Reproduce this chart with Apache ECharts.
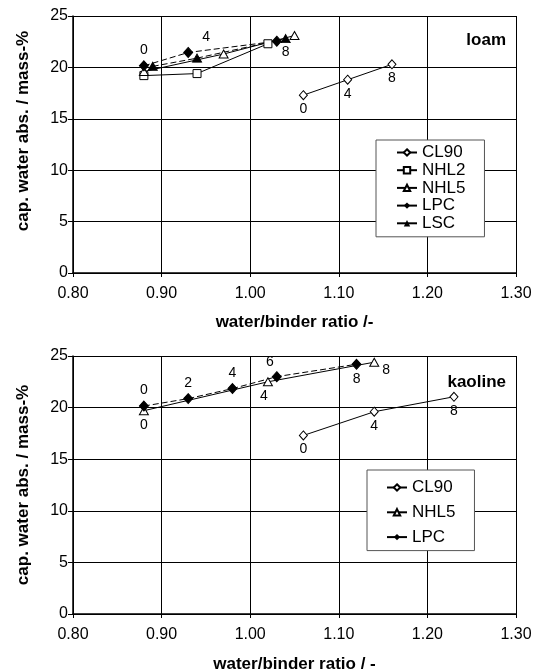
<!DOCTYPE html>
<html><head><meta charset="utf-8">
<script src="https://cdn.jsdelivr.net/npm/echarts@6/dist/echarts.min.js"></script>
<style>html,body{margin:0;padding:0;background:#fff}#c{width:541px;height:670px}</style>
</head><body><div id="c"></div>
<script>
// ---- data: loam (top) ----
const loam_CL90_x = [1.06, 1.11, 1.16];
const loam_CL90_y = [17.3, 18.8, 20.3];
const loam_NHL2_x = [0.88, 0.94, 1.02];
const loam_NHL2_y = [19.2, 19.4, 22.3];
const loam_NHL5_x = [0.88, 0.97, 1.05];
const loam_NHL5_y = [19.6, 21.3, 23.1];
const loam_LPC_x = [0.88, 0.93, 1.03];
const loam_LPC_y = [20.15, 21.45, 22.55];
const loam_LSC_x = [0.89, 0.94, 1.04];
const loam_LSC_y = [20.1, 20.9, 22.8];
// ---- data: kaoline (bottom) ----
const kao_CL90_x = [1.06, 1.14, 1.23];
const kao_CL90_y = [17.3, 19.6, 21.05];
const kao_NHL5_x = [0.88, 1.02, 1.14];
const kao_NHL5_y = [19.7, 22.5, 24.4];
const kao_LPC_x = [0.88, 0.93, 0.98, 1.03, 1.12];
const kao_LPC_y = [20.15, 20.87, 21.84, 23.0, 24.2];
// point labels (age in months)
const loam_CL90_lbl = ['0', '4', '8'];
const loam_LPC_lbl = ['0', '4', ''];
const loam_LSC_lbl = ['', '', '8'];
const kao_CL90_lbl = ['0', '4', '8'];
const kao_NHL5_lbl = ['0', '4', '8'];
const kao_LPC_lbl = ['0', '2', '4', '6', '8'];
const xTicks = [0.8, 0.9, 1.0, 1.1, 1.2, 1.3];
const yTicks = [0, 5, 10, 15, 20, 25];
const xName1 = 'water/binder ratio /-';
const xName2 = 'water/binder ratio / -';
const yName = 'cap. water abs. / mass-%';

const FONT = 'Liberation Sans, Arial, Helvetica, sans-serif';

function pts(xs, ys, lbls, labelFn) {
  return xs.map((x, i) => {
    const d = { value: [x, ys[i]] };
    const t = lbls ? lbls[i] : '';
    if (t) {
      d.label = Object.assign({ show: true, formatter: t, color: '#000', fontSize: 14, fontFamily: FONT }, labelFn(i));
    }
    return d;
  });
}

function ser(name, gi, xs, ys, opt, lbls, labelFn) {
  return Object.assign({
    name: name, type: 'line', xAxisIndex: gi, yAxisIndex: gi,
    data: pts(xs, ys, lbls, labelFn || (() => ({ position: 'bottom', distance: 2 }))),
    lineStyle: { color: '#000', width: 1 },
    itemStyle: { color: '#fff', borderColor: '#000', borderWidth: 1 },
    symbolSize: 8, showSymbol: true, animation: false, z: 3
  }, opt);
}

const openDiamond = { symbol: 'diamond', symbolSize: [8, 9] };
const openSquare = { symbol: 'rect', symbolSize: 8 };
const openTri = { symbol: 'triangle', symbolSize: [9, 8] };
const filledDiamond = { symbol: 'diamond', symbolSize: [9, 10], itemStyle: { color: '#000', borderColor: '#000' } };
const filledTri = { symbol: 'triangle', symbolSize: [9, 8], itemStyle: { color: '#000', borderColor: '#000' } };
const dashed = { lineStyle: { color: '#000', width: 1, type: [6, 3] } };

const axisX = (gi, name, gap) => ({
  type: 'value', gridIndex: gi, min: 0.8, max: 1.3, interval: 0.1,
  name: name, nameLocation: 'middle', nameGap: gap,
  nameTextStyle: { fontFamily: FONT, fontSize: 17, fontWeight: 'bold', color: '#000' },
  axisLine: { show: true, onZero: false, lineStyle: { color: '#000', width: 1.5 } },
  axisTick: { show: true, length: 4, lineStyle: { color: '#000' } },
  axisLabel: { formatter: v => v.toFixed(2), fontFamily: FONT, fontSize: 16, color: '#000', margin: 13 },
  splitLine: { show: true, lineStyle: { color: '#000', width: 1 } }
});
const axisY = (gi, pad) => ({
  type: 'value', gridIndex: gi, min: 0, max: 25, interval: 5,
  name: yName, nameLocation: 'middle', nameGap: 41, nameRotate: 90,
  nameTextStyle: { fontFamily: FONT, fontSize: 17, fontWeight: 'bold', color: '#000', padding: pad },
  axisLine: { show: true, onZero: false, lineStyle: { color: '#000', width: 1.5 } },
  axisTick: { show: true, length: 5, lineStyle: { color: '#000' } },
  axisLabel: { fontFamily: FONT, fontSize: 16, color: '#000', margin: 5 },
  splitLine: { show: true, lineStyle: { color: '#000', width: 1 } }
});

const legendBase = {
  orient: 'vertical', backgroundColor: '#fff', borderColor: '#555', borderWidth: 1,
  itemWidth: 20, itemHeight: 8,
  textStyle: { fontFamily: FONT, fontSize: 17, lineHeight: 17, color: '#000' },
  z: 10
};

const titleStyle = { fontFamily: FONT, fontSize: 17, fontWeight: 'bold', color: '#000' };

const option = {
  backgroundColor: '#fff',
  animation: false,
  title: [
    { text: 'loam', right: 35, top: 32, padding: 0, textStyle: titleStyle },
    { text: 'kaoline', right: 35, top: 374, padding: 0, textStyle: titleStyle }
  ],
  grid: [
    { left: 73, right: 25, top: 16, height: 257, outerBoundsMode: 'none', containLabel: false },
    { left: 73, right: 25, top: 356, height: 258, outerBoundsMode: 'none', containLabel: false }
  ],
  xAxis: [axisX(0, xName1, 41), axisX(1, xName2, 42)],
  yAxis: [axisY(0, [0, 0, 0, 27]), axisY(1, 0)],
  legend: [
    Object.assign({}, legendBase, {
      left: 376, top: 140, padding: [4, 19, 5, 20], itemGap: 0.7,
      data: [
        { name: 'CL90' }, { name: 'NHL2' }, { name: 'NHL5' },
        { name: 'LPC', lineStyle: { type: 'solid', width: 2 } },
        { name: 'LSC', lineStyle: { type: 'solid', width: 2 } }
      ]
    }),
    Object.assign({}, legendBase, {
      left: 367, top: 470, padding: [9, 19, 5, 19], itemGap: 7.8,
      data: [
        { name: 'CL90' }, { name: 'NHL5' },
        { name: 'LPC', lineStyle: { type: 'solid', width: 2 } }
      ]
    })
  ],
  series: [
    // top: loam
    ser('CL90', 0, loam_CL90_x, loam_CL90_y, openDiamond, loam_CL90_lbl),
    ser('NHL2', 0, loam_NHL2_x, loam_NHL2_y, openSquare, null),
    ser('NHL5', 0, loam_NHL5_x, loam_NHL5_y, openTri, null),
    ser('LPC', 0, loam_LPC_x, loam_LPC_y, Object.assign({}, filledDiamond, dashed), loam_LPC_lbl,
      i => i === 0 ? { position: 'top', distance: 3 } : { position: 'top', distance: 3, offset: [18, 0] }),
    ser('LSC', 0, loam_LSC_x, loam_LSC_y, Object.assign({}, filledTri, dashed), loam_LSC_lbl,
      () => ({ position: 'bottom', distance: 2 })),
    // bottom: kaoline
    ser('CL90', 1, kao_CL90_x, kao_CL90_y, openDiamond, kao_CL90_lbl),
    ser('NHL5', 1, kao_NHL5_x, kao_NHL5_y, openTri, kao_NHL5_lbl,
      i => i === 2 ? { position: 'right', distance: 3, offset: [0, 8] }
        : (i === 1 ? { position: 'bottom', distance: 3, offset: [-4, 0] } : { position: 'bottom', distance: 3 })),
    ser('LPC', 1, kao_LPC_x, kao_LPC_y, Object.assign({}, filledDiamond, dashed), kao_LPC_lbl,
      i => i === 4 ? { position: 'bottom', distance: 2 }
        : (i === 3 ? { position: 'top', distance: 2, offset: [-7, 0] } : { position: 'top', distance: 3 }))
  ]
};

const chart = echarts.init(document.getElementById('c'), null, { renderer: 'canvas' });
chart.setOption(option);
</script>
</body></html>
